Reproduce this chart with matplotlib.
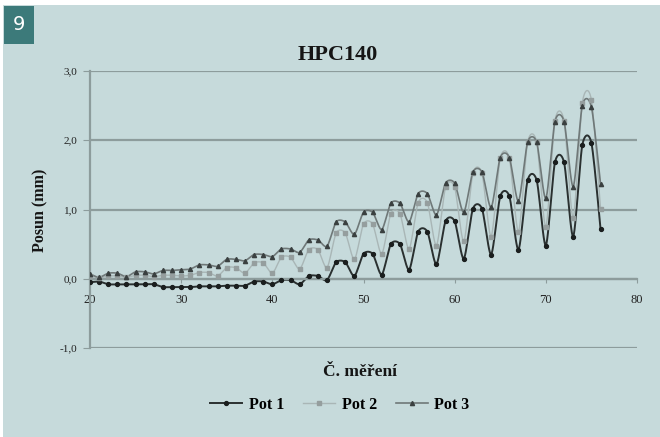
import numpy as np
import matplotlib
matplotlib.use("Agg")
import matplotlib.pyplot as plt
from matplotlib.patches import Rectangle
from matplotlib.lines import Line2D

# ---------------- data ----------------
x_vals = list(range(20, 77))
pot1 = [-0.05, -0.04, -0.08, -0.08, -0.08, -0.08, -0.08, -0.08, -0.12, -0.12,
        -0.12, -0.12, -0.11, -0.11, -0.11, -0.10, -0.10, -0.10, -0.04, -0.04,
        -0.08, -0.02, -0.02, -0.08, 0.04, 0.04, -0.02, 0.24, 0.24, 0.04,
        0.36, 0.36, 0.06, 0.50, 0.50, 0.13, 0.68, 0.68, 0.21, 0.83,
        0.83, 0.29, 1.01, 1.01, 0.35, 1.19, 1.19, 0.42, 1.42, 1.42,
        0.48, 1.68, 1.68, 0.61, 1.93, 1.96, 0.72]
pot2 = [0.04, 0.01, 0.04, 0.04, 0.02, 0.05, 0.05, 0.03, 0.05, 0.05,
        0.04, 0.05, 0.09, 0.09, 0.04, 0.16, 0.16, 0.08, 0.23, 0.23,
        0.08, 0.31, 0.31, 0.14, 0.42, 0.42, 0.16, 0.66, 0.66, 0.28,
        0.79, 0.79, 0.36, 0.94, 0.94, 0.43, 1.10, 1.10, 0.48, 1.32,
        1.32, 0.54, 1.52, 1.52, 0.61, 1.74, 1.74, 0.68, 1.97, 1.97,
        0.75, 2.28, 2.28, 0.88, 2.54, 2.58, 1.01]
pot3 = [0.07, 0.02, 0.08, 0.08, 0.03, 0.10, 0.10, 0.07, 0.12, 0.12,
        0.13, 0.14, 0.20, 0.20, 0.18, 0.28, 0.28, 0.26, 0.35, 0.35,
        0.32, 0.43, 0.43, 0.38, 0.56, 0.56, 0.47, 0.82, 0.82, 0.64,
        0.96, 0.96, 0.71, 1.09, 1.09, 0.82, 1.23, 1.23, 0.92, 1.38,
        1.38, 0.96, 1.54, 1.54, 1.03, 1.75, 1.75, 1.12, 1.97, 1.97,
        1.16, 2.27, 2.27, 1.33, 2.50, 2.48, 1.37]
series_names = ["Pot 1", "Pot 2", "Pot 3"]
x_ticks = [20, 30, 40, 50, 60, 70, 80]
y_ticks = [-1.0, 0.0, 1.0, 2.0, 3.0]
title = "HPC140"
x_label = "Č. měření"
y_label = "Posun (mm)"
panel_number = "9"


def smooth(xs, ys, n=12, k=0.13):
    """Bezier smoothing used only for drawing the connecting line."""
    xs = np.asarray(xs, float)
    ys = np.asarray(ys, float)
    px = np.concatenate([[xs[0]], xs, [xs[-1]]])
    py = np.concatenate([[ys[0]], ys, [ys[-1]]])
    out_x, out_y = [], []
    t = np.linspace(0, 1, n, endpoint=False)
    for i in range(1, len(px) - 2):
        p0x, p1x, p2x, p3x = px[i - 1], px[i], px[i + 1], px[i + 2]
        p0y, p1y, p2y, p3y = py[i - 1], py[i], py[i + 1], py[i + 2]
        c1x = p1x + (p2x - p0x) * k
        c1y = p1y + (p2y - p0y) * k
        c2x = p2x - (p3x - p1x) * k
        c2y = p2y - (p3y - p1y) * k
        b0 = (1 - t) ** 3
        b1 = 3 * (1 - t) ** 2 * t
        b2 = 3 * (1 - t) * t ** 2
        b3 = t ** 3
        out_x.extend(b0 * p1x + b1 * c1x + b2 * c2x + b3 * p2x)
        out_y.extend(b0 * p1y + b1 * c1y + b2 * c2y + b3 * p2y)
    out_x.append(xs[-1])
    out_y.append(ys[-1])
    return np.array(out_x), np.array(out_y)


bg = "#c6dadb"
serif = ["Liberation Serif", "DejaVu Serif"]

fig = plt.figure(figsize=(6.6, 4.37), dpi=100)
fig.patch.set_facecolor(bg)

# white margins at top / left
fig.patches.append(Rectangle((0, 1 - 5 / 437), 1, 5 / 437, transform=fig.transFigure,
                             facecolor="white", edgecolor="none", zorder=0))
fig.patches.append(Rectangle((0, 0), 3 / 660, 1, transform=fig.transFigure,
                             facecolor="white", edgecolor="none", zorder=0))
# panel number box
fig.patches.append(Rectangle((4 / 660, 1 - 44 / 437), 30 / 660, 38 / 437,
                             transform=fig.transFigure, facecolor="#3c7a7a",
                             edgecolor="none", zorder=1))
fig.text(19 / 660, 1 - 25 / 437, panel_number, color="white", fontsize=14,
         ha="center", va="center", family="DejaVu Sans")

ax = fig.add_axes([90 / 660, 1 - 348 / 437, (637 - 90) / 660, (348 - 71) / 437])
ax.set_facecolor(bg)
ax.set_xlim(20, 80)
ax.set_ylim(-1.0, 3.0)

grid_col = "#8d9c9c"
for yv in y_ticks:
    ax.axhline(yv, color=grid_col, lw=1.6, zorder=1)

styles = [
    dict(line="#2a3030", lw=1.4, marker="o", ms=2.8, mfc="#1a1e1e", mec="#1a1e1e"),
    dict(line="#a9b6b6", lw=1.0, marker="s", ms=3.3, mfc="#959e9e", mec="#959e9e"),
    dict(line="#6f7878", lw=1.2, marker="^", ms=3.0, mfc="#3a4040", mec="#3a4040"),
]
data = [pot1, pot2, pot3]
order = [1, 2, 0]
for i in order:
    st = styles[i]
    sx, sy = smooth(x_vals, data[i])
    ax.plot(sx, sy, color=st["line"], lw=st["lw"], zorder=2 + i)
    ax.plot(x_vals, data[i], linestyle="none", marker=st["marker"], ms=st["ms"],
            mfc=st["mfc"], mec=st["mec"], zorder=5 + i)

# spines
for s in ["top", "right"]:
    ax.spines[s].set_visible(False)
ax.spines["left"].set_color(grid_col)
ax.spines["left"].set_linewidth(1.6)
ax.spines["bottom"].set_position(("data", 0))
ax.spines["bottom"].set_color(grid_col)
ax.spines["bottom"].set_linewidth(1.6)

ax.set_xticks(x_ticks)
ax.set_xticklabels([str(v) for v in x_ticks], family=serif, fontsize=9, color="#222222")
ax.set_yticks(y_ticks)
ax.set_yticklabels([f"{v:.1f}".replace(".", ",") for v in y_ticks], family=serif,
                   fontsize=8, color="#222222")
ax.tick_params(axis="x", length=3, color=grid_col, pad=8)
ax.tick_params(axis="y", length=5, color=grid_col, pad=4)

fig.text(338 / 660, 1 - 55 / 437, title, family=serif, fontsize=16, fontweight="bold",
         ha="center", va="center", color="#151515")
fig.text(40 / 660, 1 - 210 / 437, y_label, family=serif, fontsize=11.5,
         fontweight="bold", ha="center", va="center", rotation=90, color="#151515")
fig.text(360 / 660, 1 - 372 / 437, x_label, family=serif, fontsize=12.5,
         fontweight="bold", ha="center", va="center", color="#151515")

handles = []
for i in range(3):
    st = styles[i]
    handles.append(Line2D([0], [0], color=st["line"], lw=st["lw"], marker=st["marker"],
                          ms=st["ms"], mfc=st["mfc"], mec=st["mec"]))
fig.legend(handles, series_names, loc="center", bbox_to_anchor=(340 / 660, 1 - 405 / 437),
           ncol=3, frameon=False, prop=dict(family=serif, size=11.5, weight="bold"),
           handlelength=2.0, columnspacing=1.2, handletextpad=0.4)

fig.savefig("out.png", dpi=100, facecolor=fig.get_facecolor())
